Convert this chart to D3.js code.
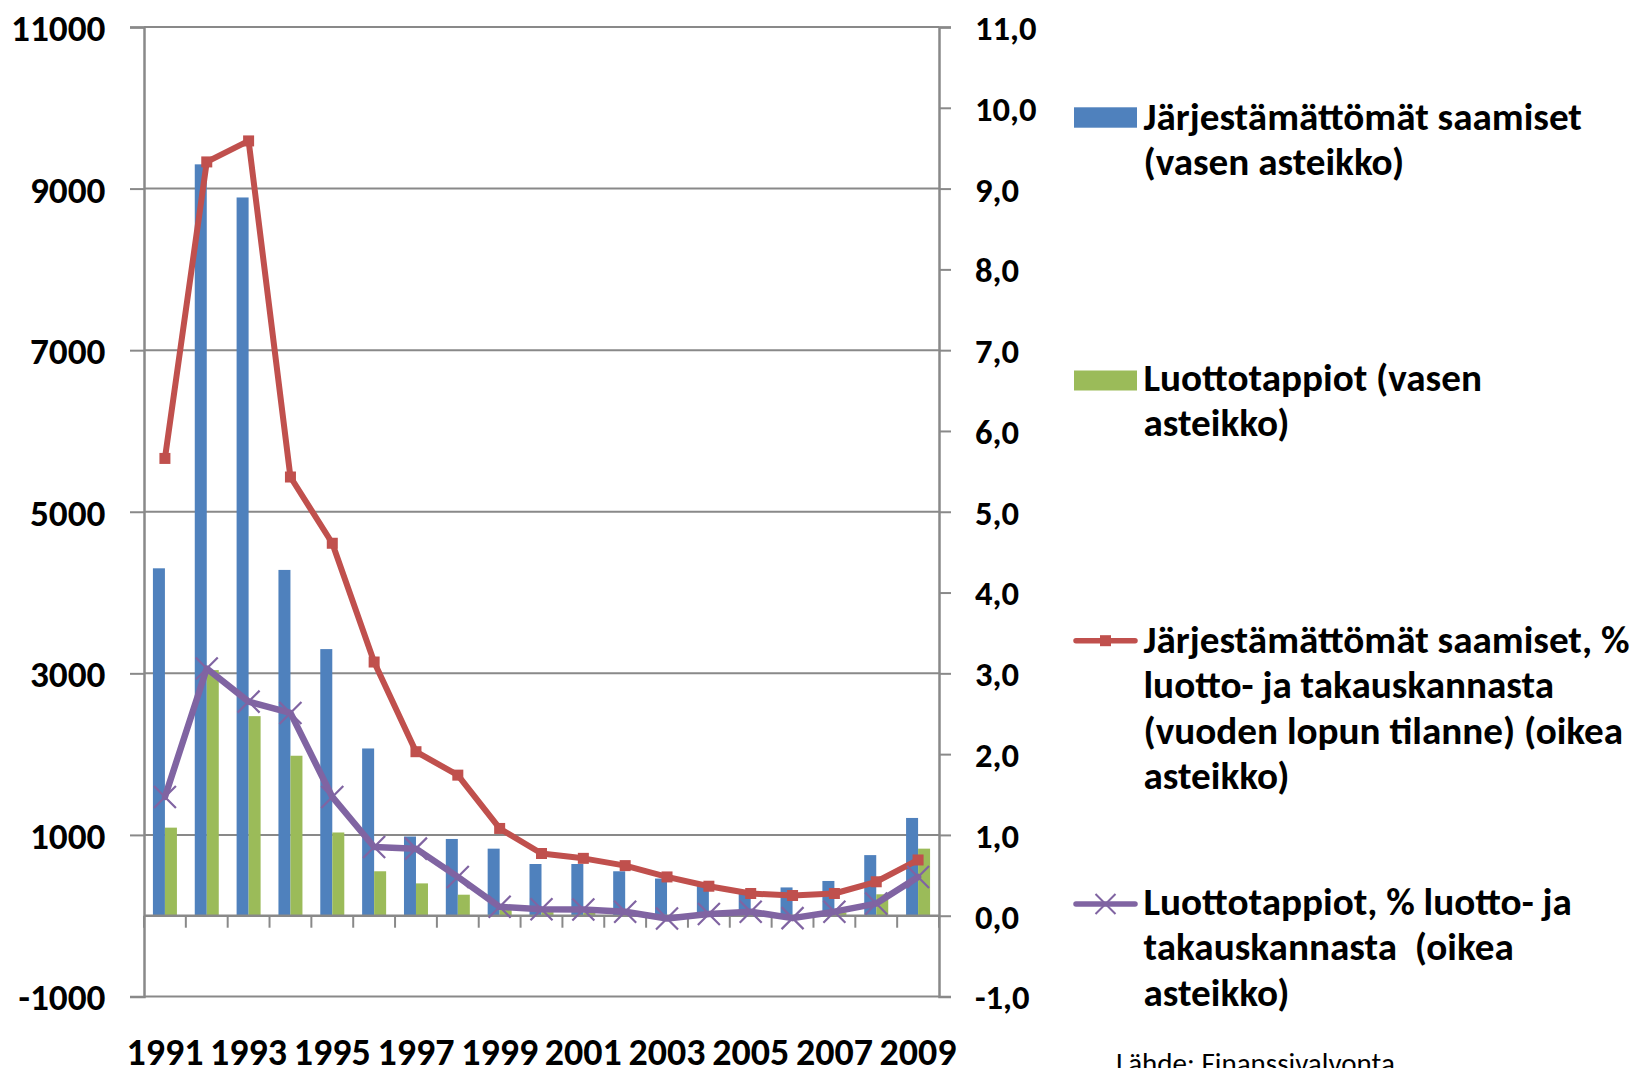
<!DOCTYPE html>
<html>
<head>
<meta charset="utf-8">
<script src="https://cdn.jsdelivr.net/npm/d3@7"></script>
<style>
  html, body { margin: 0; padding: 0; background: #fff; }
  svg { display: block; }
  text { font-family: Carlito, Lato, "Open Sans", sans-serif; fill: #000; }
</style>
</head>
<body>
<svg id="chart" width="1630" height="1068"></svg>
<script>
// ---------------- data ----------------
const years = [1991, 1992, 1993, 1994, 1995, 1996, 1997, 1998, 1999, 2000,
               2001, 2002, 2003, 2004, 2005, 2006, 2007, 2008, 2009];
const yearLabels = [1991, 1993, 1995, 1997, 1999, 2001, 2003, 2005, 2007, 2009];
// Järjestämättömät saamiset (left axis)
const nonPerforming = [4300, 9300, 8890, 4280, 3300, 2070, 980, 950, 830, 640,
                       640, 550, 460, 380, 300, 350, 430, 750, 1210];
// Luottotappiot (left axis)
const creditLosses = [1090, 3040, 2470, 1980, 1030, 550, 400, 260, 70, 45,
                      35, 30, -30, 20, 50, -40, 40, 265, 830];
// Järjestämättömät saamiset, % (right axis)
const nonPerformingPct = [5.66, 9.33, 9.59, 5.43, 4.61, 3.14, 2.03, 1.74, 1.08, 0.77,
                          0.71, 0.62, 0.48, 0.365, 0.275, 0.25, 0.275, 0.42, 0.69];
// Luottotappiot, % (right axis)
const creditLossPct = [1.47, 3.06, 2.65, 2.51, 1.47, 0.85, 0.83, 0.48, 0.11, 0.08,
                       0.077, 0.05, -0.035, 0.02, 0.05, -0.03, 0.05, 0.15, 0.48];
const leftTicks = [-1000, 1000, 3000, 5000, 7000, 9000, 11000];
const rightTicks = [-1, 0, 1, 2, 3, 4, 5, 6, 7, 8, 9, 10, 11];
const legendLines = [
  ["Järjestämättömät saamiset", "(vasen asteikko)"],
  ["Luottotappiot (vasen", "asteikko)"],
  ["Järjestämättömät saamiset, %", "luotto- ja takauskannasta", "(vuoden lopun tilanne) (oikea", "asteikko)"],
  ["Luottotappiot, % luotto- ja", "takauskannasta  (oikea", "asteikko)"]
];
const sourceText = "Lähde: Finanssivalvonta";

// ---------------- styles ----------------
const C_BLUE = "#4F81BD", C_GREEN = "#9BBB59", C_RED = "#C0504D", C_PURPLE = "#8064A2";
const C_GRID = "#898989";

const svg = d3.select("#chart");
svg.append("rect").attr("width", 1630).attr("height", 1068).attr("fill", "#fff");

const plotL = 144, plotR = 939, plotT = 27, plotB = 996.5;

const x = d3.scaleBand().domain(years).range([plotL, plotR]).paddingInner(0).paddingOuter(0);
const xs = d3.scaleBand().domain(["a", "b"]).range([0, x.bandwidth()]).paddingInner(0).paddingOuter(0.743);
const yL = d3.scaleLinear().domain([-1000, 11000]).range([plotB, plotT]);
const yR = d3.scaleLinear().domain([-1, 11]).range([plotB, plotT]);

// font fitting helper
function fitSize(str, weight, targetWidth) {
  const t = svg.append("text").attr("font-size", 100).attr("font-weight", weight).text(str);
  const w = t.node().getComputedTextLength();
  t.remove();
  return 100 * targetWidth / w;
}
const axisFs = fitSize("11000", "bold", 94.5);
const rightFs = fitSize("11,0", "bold", 61.5);
const yearFs = fitSize("1991", "bold", 77);
const legendFs = fitSize(legendLines[0][0], "bold", 438.5);
const sourceFs = fitSize(sourceText, "normal", 279);

// ---------------- gridlines ----------------
svg.append("g").selectAll("line").data(leftTicks).join("line")
  .attr("x1", plotL).attr("x2", plotR)
  .attr("y1", d => yL(d)).attr("y2", d => yL(d))
  .attr("stroke", C_GRID).attr("stroke-width", 2);

// ---------------- bars ----------------
const bars = svg.append("g");
bars.selectAll("rect.np").data(years).join("rect").attr("class", "np")
  .attr("x", (d) => x(d) + xs("a"))
  .attr("width", xs.bandwidth())
  .attr("y", (d, i) => Math.min(yL(nonPerforming[i]), yL(0)))
  .attr("height", (d, i) => Math.abs(yL(nonPerforming[i]) - yL(0)))
  .attr("fill", C_BLUE);
bars.selectAll("rect.cl").data(years).join("rect").attr("class", "cl")
  .attr("x", (d) => x(d) + xs("b"))
  .attr("width", xs.bandwidth())
  .attr("y", (d, i) => Math.min(yL(creditLosses[i]), yL(0)))
  .attr("height", (d, i) => Math.abs(yL(creditLosses[i]) - yL(0)))
  .attr("fill", C_GREEN);

// ---------------- axes ----------------
// left axis
const gL = svg.append("g").attr("transform", `translate(${plotL},0)`)
  .call(d3.axisLeft(yL).tickValues(leftTicks).tickSize(14).tickFormat(d => String(d)));
gL.select(".domain").attr("stroke", C_GRID).attr("stroke-width", 2.5);
gL.selectAll(".tick line").attr("stroke", C_GRID).attr("stroke-width", 2);
gL.selectAll(".tick text").attr("x", 105.5 - plotL).attr("dy", "0.36em")
  .attr("font-size", axisFs).attr("font-weight", "bold").attr("fill", "#000");

// right axis
const gR = svg.append("g").attr("transform", `translate(${plotR},0)`)
  .call(d3.axisRight(yR).tickValues(rightTicks).tickSize(12).tickFormat(d => d.toFixed(1).replace(".", ",")));
gR.select(".domain").attr("stroke", C_GRID).attr("stroke-width", 2.5);
gR.selectAll(".tick line").attr("stroke", C_GRID).attr("stroke-width", 2);
gR.selectAll(".tick text").attr("x", 975 - plotR).attr("dy", "0.36em")
  .attr("font-size", rightFs).attr("font-weight", "bold").attr("fill", "#000");

// category axis at zero line
const zeroY = yL(0);
const gZ = svg.append("g");
gZ.append("line").attr("x1", plotL).attr("x2", plotR).attr("y1", zeroY).attr("y2", zeroY)
  .attr("stroke", C_GRID).attr("stroke-width", 2.5);
gZ.selectAll("line.ct").data(years.concat(["end"])).join("line").attr("class", "ct")
  .attr("x1", d => d === "end" ? plotR : x(d)).attr("x2", d => d === "end" ? plotR : x(d))
  .attr("y1", zeroY).attr("y2", zeroY + 12)
  .attr("stroke", C_GRID).attr("stroke-width", 2);

// year labels (low position)
const gX = svg.append("g").attr("transform", `translate(0,${plotB})`)
  .call(d3.axisBottom(x).tickValues(yearLabels).tickSize(0).tickFormat(d => String(d)));
gX.select(".domain").remove();
gX.selectAll(".tick text").attr("y", 0).attr("dy", 0)
  .attr("transform", `translate(0,${1064.5 - plotB})`)
  .attr("font-size", yearFs).attr("font-weight", "bold").attr("fill", "#000");

// ---------------- lines ----------------
const cx = d => x(d) + x.bandwidth() / 2;
const lineR = d3.line().x((d, i) => cx(years[i])).y(d => yR(d));

svg.append("path").datum(nonPerformingPct).attr("d", lineR)
  .attr("fill", "none").attr("stroke", C_RED).attr("stroke-width", 6)
  .attr("stroke-linejoin", "round").attr("stroke-linecap", "round");
svg.append("g").selectAll("rect").data(nonPerformingPct).join("rect")
  .attr("x", (d, i) => cx(years[i]) - 5.5).attr("y", d => yR(d) - 5.5)
  .attr("width", 11).attr("height", 11).attr("fill", C_RED);

svg.append("path").datum(creditLossPct).attr("d", lineR)
  .attr("fill", "none").attr("stroke", C_PURPLE).attr("stroke-width", 6.5)
  .attr("stroke-linejoin", "round").attr("stroke-linecap", "round");
const xMark = (cxv, cyv, r) => `M${cxv - r},${cyv - r}L${cxv + r},${cyv + r}M${cxv - r},${cyv + r}L${cxv + r},${cyv - r}`;
svg.append("g").selectAll("path").data(creditLossPct).join("path")
  .attr("d", (d, i) => xMark(cx(years[i]), yR(d), 11))
  .attr("stroke", C_PURPLE).attr("stroke-width", 2.2).attr("fill", "none");

// ---------------- legend ----------------
const lg = svg.append("g");
const symX0 = 1074, symX1 = 1137, textX = 1143.5, lineGap = 45.4;
const legendBase = [130, 391, 653, 915];
const legendSymY = [117.5, 380.5, 640.7, 904];

// swatches
lg.append("rect").attr("x", symX0).attr("y", 107.3).attr("width", symX1 - symX0).attr("height", 20.4).attr("fill", C_BLUE);
lg.append("rect").attr("x", symX0).attr("y", 370.5).attr("width", symX1 - symX0).attr("height", 20).attr("fill", C_GREEN);
lg.append("line").attr("x1", symX0 + 2).attr("x2", symX1 - 2).attr("y1", legendSymY[2]).attr("y2", legendSymY[2])
  .attr("stroke", C_RED).attr("stroke-width", 5.5).attr("stroke-linecap", "round");
lg.append("rect").attr("x", (symX0 + symX1) / 2 - 5.5).attr("y", legendSymY[2] - 5.5).attr("width", 11).attr("height", 11).attr("fill", C_RED);
lg.append("line").attr("x1", symX0 + 2).attr("x2", symX1 - 2).attr("y1", legendSymY[3]).attr("y2", legendSymY[3])
  .attr("stroke", C_PURPLE).attr("stroke-width", 5.5).attr("stroke-linecap", "round");
lg.append("path").attr("d", xMark((symX0 + symX1) / 2, legendSymY[3], 10))
  .attr("stroke", C_PURPLE).attr("stroke-width", 2).attr("fill", "none");

legendLines.forEach((lines, k) => {
  const t = lg.append("text").attr("x", textX).attr("y", legendBase[k])
    .attr("font-size", legendFs).attr("font-weight", "bold").style("white-space", "pre");
  lines.forEach((ln, j) => {
    t.append("tspan").attr("x", textX).attr("y", legendBase[k] + j * lineGap).text(ln);
  });
});

// source
svg.append("text").attr("x", 1116).attr("y", 1073).attr("font-size", sourceFs).text(sourceText);
</script>
</body>
</html>
